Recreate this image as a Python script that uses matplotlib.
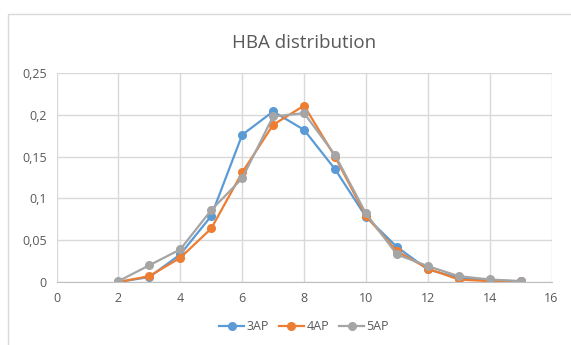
import matplotlib.pyplot as plt
from matplotlib.patches import Rectangle
from matplotlib.ticker import FuncFormatter

# HBA counts and the share of molecules for each AP group
hba = [2, 3, 4, 5, 6, 7, 8, 9, 10, 11, 12, 13, 14, 15]
share_3ap = [0.000, 0.006, 0.033, 0.079, 0.176, 0.204, 0.182, 0.135, 0.078, 0.042, 0.015, 0.005, 0.002, 0.001]
share_4ap = [0.000, 0.007, 0.029, 0.064, 0.131, 0.188, 0.211, 0.150, 0.079, 0.037, 0.016, 0.003, 0.001, 0.001]
share_5ap = [0.001, 0.020, 0.039, 0.086, 0.124, 0.198, 0.202, 0.152, 0.082, 0.033, 0.019, 0.007, 0.003, 0.001]
series_names = ['3AP', '4AP', '5AP']

colors = ['#5B9BD5', '#ED7D31', '#A5A5A5']
text_color = '#595959'
grid_color = '#D9D9D9'

plt.rcParams['font.family'] = ['Open Sans', 'DejaVu Sans']

fig = plt.figure(figsize=(5.71, 3.45), dpi=100)
fig.patches.append(Rectangle((8 / 571, -0.01), 1.0, 1 - 14 / 345 + 0.01, transform=fig.transFigure,
                             fill=False, edgecolor='#D9D9D9', linewidth=1.0))

ax = fig.add_axes([0.099, 0.1826, 0.867, 0.6058])
for values, name, color in zip([share_3ap, share_4ap, share_5ap], series_names, colors):
    ax.plot(hba, values, color=color, linewidth=1.6, marker='o', markersize=5.5, label=name)

ax.set_xlim(0, 16)
ax.set_ylim(0, 0.25)
ax.set_xticks(range(0, 17, 2))
ax.set_yticks([0, 0.05, 0.1, 0.15, 0.2, 0.25])
ax.yaxis.set_major_formatter(FuncFormatter(lambda v, pos: f'{v:g}'.replace('.', ',')))
ax.grid(True, color=grid_color, linewidth=1.0)
ax.set_axisbelow(True)
for side in ['top', 'left', 'right']:
    ax.spines[side].set_visible(False)
ax.spines['bottom'].set_color('#BFBFBF')
ax.tick_params(length=0, labelsize=9, colors=text_color, pad=7)

ax.set_title('HBA distribution', fontsize=13.5, color=text_color, pad=18)
ax.legend(loc='upper center', bbox_to_anchor=(0.5, -0.13), ncol=3, frameon=False, fontsize=9,
          labelcolor=text_color, handlelength=2.0, handletextpad=0.2, columnspacing=0.8)

fig.savefig('out.png', dpi=100)
